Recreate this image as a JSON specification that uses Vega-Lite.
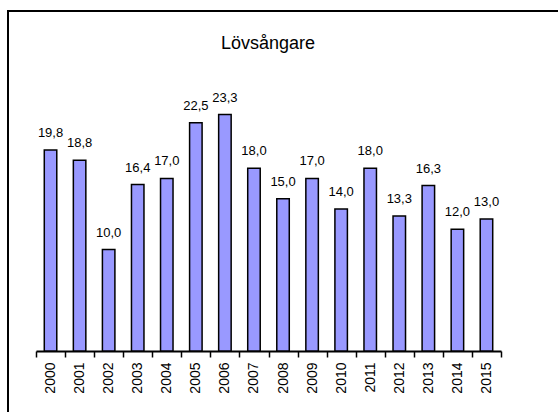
{
  "$schema": "https://vega.github.io/schema/vega-lite/v6.json",
  "width": 560,
  "height": 410,
  "autosize": {"type": "none"},
  "padding": {"left": 8, "top": 11, "right": 0, "bottom": 0},
  "background": "white",
  "config": {
    "view": {"stroke": "black", "strokeWidth": 2},
    "font": "Liberation Sans",
    "locale": {"number": {"decimal": ",", "thousands": " ", "grouping": [3], "currency": ["", " kr"]}}
  },
  "title": {
    "text": "Lövsångare",
    "font": "Liberation Sans",
    "fontSize": 18,
    "fontWeight": "normal",
    "color": "black",
    "anchor": "middle",
    "offset": -42,
    "dx": -20
  },
  "data": {
    "values": [
      {"year": "2000", "value": 19.8},
      {"year": "2001", "value": 18.8},
      {"year": "2002", "value": 10.0},
      {"year": "2003", "value": 16.4},
      {"year": "2004", "value": 17.0},
      {"year": "2005", "value": 22.5},
      {"year": "2006", "value": 23.3},
      {"year": "2007", "value": 18.0},
      {"year": "2008", "value": 15.0},
      {"year": "2009", "value": 17.0},
      {"year": "2010", "value": 14.0},
      {"year": "2011", "value": 18.0},
      {"year": "2012", "value": 13.3},
      {"year": "2013", "value": 16.3},
      {"year": "2014", "value": 12.0},
      {"year": "2015", "value": 13.0}
    ]
  },
  "encoding": {
    "x": {
      "field": "year",
      "type": "ordinal",
      "scale": {"range": [28, 493], "paddingInner": 0, "paddingOuter": 0},
      "axis": {
        "title": null,
        "orient": "bottom",
        "offset": -70,
        "domainColor": "black",
        "domainWidth": 2,
        "tickColor": "black",
        "tickWidth": 1.5,
        "tickSize": 6,
        "tickBand": "extent",
        "labelAngle": -90,
        "labelFontSize": 14,
        "labelColor": "black",
        "labelFont": "Liberation Sans",
        "labelPadding": 5
      }
    },
    "y": {
      "field": "value",
      "type": "quantitative",
      "scale": {"domain": [0, 33.5], "range": [340, 0], "nice": false, "zero": true},
      "axis": null
    }
  },
  "layer": [
    {
      "mark": {"type": "bar", "fill": "#9999FF", "stroke": "black", "strokeWidth": 1.5, "width": {"band": 0.43}}
    },
    {
      "mark": {"type": "text", "baseline": "alphabetic", "dy": -13, "fontSize": 13, "font": "Liberation Sans", "color": "black"},
      "encoding": {"text": {"field": "value", "type": "quantitative", "format": ".1f"}}
    }
  ]
}
